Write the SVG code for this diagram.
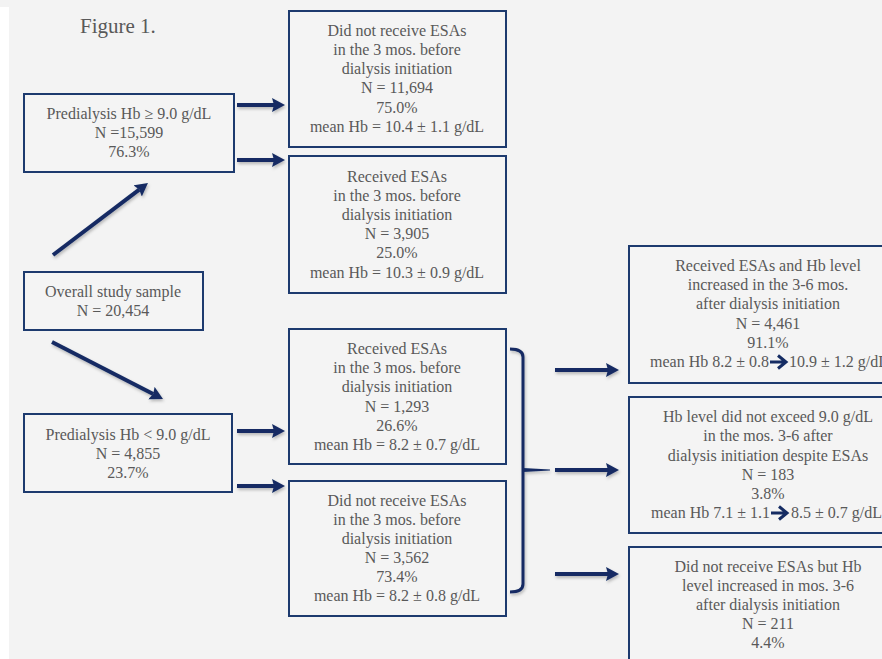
<svg xmlns="http://www.w3.org/2000/svg" width="882" height="659" viewBox="0 0 882 659">
  <style>
    .box { fill: #f4f4f4; stroke: #1d3a6e; stroke-width: 2; }
    .t { font-family: "Liberation Serif", "Times New Roman", serif; font-size: 16px; fill: #595959; text-anchor: middle; }
    .ts { text-anchor: start; }
    .te { text-anchor: end; }
    .title { font-family: "Liberation Serif", "Times New Roman", serif; font-size: 21px; fill: #595959; }
    .arr { stroke: #152c63; stroke-width: 4; fill: none; marker-end: url(#head); }
    .brk { stroke: #152c63; stroke-width: 3; fill: none; }
    .inl { stroke: #152c63; stroke-width: 3; fill: none; }
  </style>
  <defs>
    <marker id="head" markerUnits="userSpaceOnUse" markerWidth="16" markerHeight="16" refX="2" refY="7" orient="auto">
      <path d="M0,0 L13,7 L0,14 L2,7 Z" fill="#152c63"/>
    </marker>
    <filter id="sh" filterUnits="userSpaceOnUse" x="0" y="0" width="882" height="659">
      <feDropShadow dx="1" dy="2" stdDeviation="1.5" flood-color="#000" flood-opacity="0.25"/>
    </filter>
  </defs>

  <rect x="0" y="0" width="882" height="659" fill="#f3f3f3"/>
  <rect x="0" y="7" width="9" height="652" fill="#ffffff"/>

  <text class="title" x="80" y="33">Figure 1.</text>

  <g id="node-hb-high">
    <rect class="box" x="24" y="94" width="210" height="78"/>
    <text class="t" x="129" y="119">Predialysis Hb ≥ 9.0 g/dL</text>
    <text class="t" x="129" y="138">N =15,599</text>
    <text class="t" x="129" y="157">76.3%</text>
  </g>

  <g id="node-high-no-esa">
    <rect class="box" x="289" y="11" width="217" height="136"/>
    <text class="t" x="397" y="36">Did not receive ESAs</text>
    <text class="t" x="397" y="55">in the 3 mos. before</text>
    <text class="t" x="397" y="74">dialysis initiation</text>
    <text class="t" x="397" y="93">N = 11,694</text>
    <text class="t" x="397" y="113">75.0%</text>
    <text class="t" x="397" y="132">mean Hb = 10.4 ± 1.1 g/dL</text>
  </g>

  <g id="node-high-esa">
    <rect class="box" x="289" y="156" width="217" height="137"/>
    <text class="t" x="397" y="182">Received ESAs</text>
    <text class="t" x="397" y="201">in the 3 mos. before</text>
    <text class="t" x="397" y="220">dialysis initiation</text>
    <text class="t" x="397" y="239">N = 3,905</text>
    <text class="t" x="397" y="258">25.0%</text>
    <text class="t" x="397" y="278">mean Hb = 10.3 ± 0.9 g/dL</text>
  </g>

  <g id="node-overall">
    <rect class="box" x="24" y="272" width="179" height="58"/>
    <text class="t" x="113" y="297">Overall study sample</text>
    <text class="t" x="113" y="316">N = 20,454</text>
  </g>

  <g id="node-hb-low">
    <rect class="box" x="24" y="414" width="208" height="78"/>
    <text class="t" x="128" y="440">Predialysis Hb &lt; 9.0 g/dL</text>
    <text class="t" x="128" y="459">N = 4,855</text>
    <text class="t" x="128" y="478">23.7%</text>
  </g>

  <g id="node-low-esa">
    <rect class="box" x="289" y="329" width="217" height="135"/>
    <text class="t" x="397" y="354">Received ESAs</text>
    <text class="t" x="397" y="373">in the 3 mos. before</text>
    <text class="t" x="397" y="392">dialysis initiation</text>
    <text class="t" x="397" y="412">N = 1,293</text>
    <text class="t" x="397" y="431">26.6%</text>
    <text class="t" x="397" y="450">mean Hb = 8.2 ± 0.7 g/dL</text>
  </g>

  <g id="node-low-no-esa">
    <rect class="box" x="289" y="481" width="217" height="135"/>
    <text class="t" x="397" y="506">Did not receive ESAs</text>
    <text class="t" x="397" y="525">in the 3 mos. before</text>
    <text class="t" x="397" y="544">dialysis initiation</text>
    <text class="t" x="397" y="563">N = 3,562</text>
    <text class="t" x="397" y="582">73.4%</text>
    <text class="t" x="397" y="601">mean Hb = 8.2 ± 0.8 g/dL</text>
  </g>

  <g id="node-out-increased">
    <rect class="box" x="629" y="246" width="262" height="137"/>
    <text class="t" x="768" y="271">Received ESAs and Hb level</text>
    <text class="t" x="768" y="290">increased in the 3-6 mos.</text>
    <text class="t" x="768" y="309">after dialysis initiation</text>
    <text class="t" x="768" y="329">N = 4,461</text>
    <text class="t" x="768" y="348">91.1%</text>
    <text class="t te" x="769" y="367">mean Hb 8.2 ± 0.8</text>
    <path class="inl" d="M770,362 L784,362 M778,355.5 L786,362 L778,368.5"/>
    <text class="t ts" x="789" y="367">10.9 ± 1.2 g/dL</text>
  </g>

  <g id="node-out-not-exceed">
    <rect class="box" x="629" y="397" width="262" height="136"/>
    <text class="t" x="768" y="422">Hb level did not exceed 9.0 g/dL</text>
    <text class="t" x="768" y="441">in the mos. 3-6 after</text>
    <text class="t" x="768" y="461">dialysis initiation despite ESAs</text>
    <text class="t" x="768" y="480">N = 183</text>
    <text class="t" x="768" y="499">3.8%</text>
    <text class="t te" x="770" y="518">mean Hb 7.1 ± 1.1</text>
    <path class="inl" d="M771,513 L785,513 M779,506.5 L787,513 L779,519.5"/>
    <text class="t ts" x="791" y="518">8.5 ± 0.7 g/dL</text>
  </g>

  <g id="node-out-no-esa">
    <rect class="box" x="629" y="547" width="262" height="130"/>
    <text class="t" x="768" y="572">Did not receive ESAs but Hb</text>
    <text class="t" x="768" y="591">level increased in mos. 3-6</text>
    <text class="t" x="768" y="610">after dialysis initiation</text>
    <text class="t" x="768" y="629">N = 211</text>
    <text class="t" x="768" y="648">4.4%</text>
  </g>

  <g id="connectors" filter="url(#sh)">
    <line class="arr" x1="53" y1="255" x2="139.2" y2="189.6"/>
    <line class="arr" x1="52" y1="342" x2="153.2" y2="394"/>
    <line class="arr" x1="237" y1="105" x2="274" y2="105"/>
    <line class="arr" x1="237" y1="160" x2="274" y2="160"/>
    <line class="arr" x1="237" y1="431" x2="274" y2="431"/>
    <line class="arr" x1="237" y1="486" x2="274" y2="486"/>
    <path class="brk" d="M510,349 Q523,349 523,357 L523,584 Q523,592 510,592"/>
    <path d="M523,468 L550,469.5 L550,470.5 L523,472 Z" fill="#152c63"/>
    <line class="arr" x1="555" y1="370" x2="608" y2="370"/>
    <line class="arr" x1="555" y1="470" x2="608" y2="470"/>
    <line class="arr" x1="555" y1="574" x2="608" y2="574"/>
  </g>
</svg>
